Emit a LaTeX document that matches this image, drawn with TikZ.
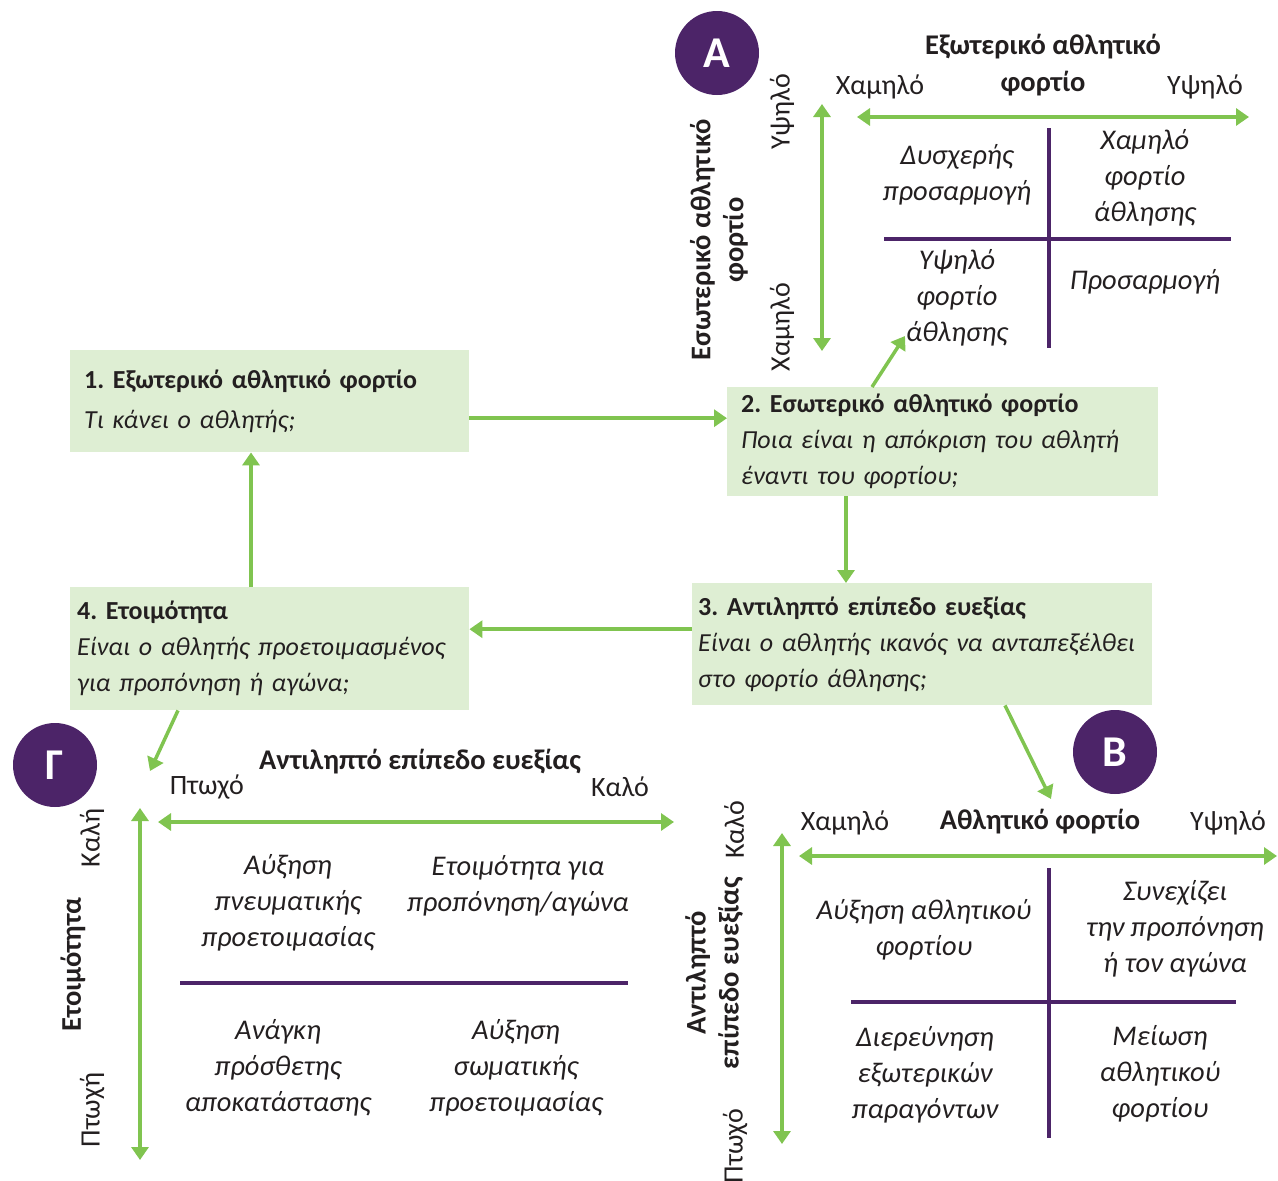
\documentclass[tikz,border=0pt]{standalone}
\usepackage{fontspec}
\setmainfont{Carlito}
\usetikzlibrary{arrows.meta,calc}
\definecolor{grn}{RGB}{128,196,80}
\definecolor{boxg}{RGB}{222,238,211}
\definecolor{purp}{RGB}{76,36,104}
\definecolor{txt}{RGB}{35,31,32}
\frenchspacing
\begin{document}
\begin{tikzpicture}[x=1pt,y=-1pt,
  box/.style={fill=boxg, draw=none, anchor=north west, align=left, inner xsep=14pt, inner ysep=0pt,
    font=\fontsize{26}{36}\selectfont, text=txt},
  flow/.style={draw=grn, line width=3.5pt, -{Triangle[width=17pt,length=13pt]}},
  axisline/.style={draw=grn, line width=3.5pt, {Triangle[width=17pt,length=13pt]}-{Triangle[width=17pt,length=13pt]}},
  divider/.style={draw=purp, line width=4pt},
  badge/.style={circle, fill=purp, minimum size=84pt, inner sep=0pt, text=white, font=\fontsize{44}{44}\selectfont\bfseries},
  lbl/.style={font=\fontsize{28}{34}\selectfont, text=txt, inner sep=0pt},
  qt/.style={font=\fontsize{28.5}{36}\selectfont\itshape, align=center, text=txt, inner sep=0pt},
  ttl/.style={font=\fontsize{28.5}{37}\selectfont\bfseries, align=center, text=txt, inner sep=0pt},
  rttl/.style={font=\fontsize{28.5}{33}\selectfont\bfseries, align=center, text=txt, inner sep=0pt, rotate=90}
]
\useasboundingbox (0,0) rectangle (1278,1181);

% ---- flow boxes
\node[box, minimum width=399pt, minimum height=102pt, text width=371pt] (b1) at (70,350)
  {\textbf{1. Εξωτερικό αθλητικό φορτίο}\\[4pt]\textit{Τι κάνει ο αθλητής;}};
\node[box, minimum width=431pt, minimum height=109pt, text width=403pt] (b2) at (727,387)
  {\textbf{2. Εσωτερικό αθλητικό φορτίο}\\\textit{Ποια είναι η απόκριση του αθλητή}\\\textit{έναντι του φορτίου;}};
\node[box, minimum width=460pt, minimum height=122pt, text width=448pt, inner xsep=6pt] (b3) at (692,583)
  {\textbf{3. Αντιληπτό επίπεδο ευεξίας}\\\textit{Είναι ο αθλητής ικανός να ανταπεξέλθει}\\\textit{στο φορτίο άθλησης;}};
\node[box, minimum width=399pt, minimum height=123pt, text width=385pt, inner xsep=7pt] (b4) at (70,587)
  {\textbf{4. Ετοιμότητα}\\\textit{Είναι ο αθλητής προετοιμασμένος}\\\textit{για προπόνηση ή αγώνα;}};

% ---- cycle arrows
\coordinate (a12) at ($(b1.east)+(0,17)$);
\draw[flow] (a12) -- (a12 -| b2.west);
\coordinate (a23) at ($(b2.south west)+(119,0)$);
\draw[flow] (a23) -- (a23 |- b3.north);
\coordinate (a34) at ($(b3.west)+(0,-15)$);
\draw[flow] (a34) -- (a34 -| b4.east);
\coordinate (a41) at ($(b4.north west)+(181,0)$);
\draw[flow] (a41) -- (a41 |- b1.south);

% ---- badges
\node[badge] (cA) at (717,53) {A};
\node[badge] (cB) at (1115,752) {B};
\node[badge] (cG) at (55,765) {Γ};

% ---- quadrant A
\coordinate (tipA) at (905,336);
\draw[flow] ($(b2.north west)+(145,0)$) -- (tipA);
\node[ttl] (tA1) at (1043,47) {Εξωτερικό αθλητικό};
\node[ttl] (tA2) at (1043,84) {φορτίο};
\node[lbl] (lA1) at (880,87) {Χαμηλό};
\node[lbl] (lA2) at (1205,87) {Υψηλό};
\coordinate (hA1) at (857,117); \coordinate (hA2) at (1249,117);
\draw[axisline] (hA1) -- (hA2);
\coordinate (vA1) at (822,104); \coordinate (vA2) at (822,351);
\draw[axisline] (vA1) -- (vA2);
\node[lbl, rotate=90] (lA3) at (782,112) {Υψηλό};
\node[lbl, rotate=90] (lA4) at (782,327) {Χαμηλό};
\node[rttl] (tA3) at (719,240) {Εσωτερικό αθλητικό\\φορτίο};
\coordinate (dA1) at (1049,128); \coordinate (dA2) at (1049,348);
\coordinate (dA3) at (884,239); \coordinate (dA4) at (1231,239);
\draw[divider] (dA1) -- (dA2);
\draw[divider] (dA3) -- (dA4);
\node[qt] (qA1) at (957,175) {Δυσχερής\\προσαρμογή};
\node[qt] (qA2) at (1145,178) {Χαμηλό\\φορτίο\\άθλησης};
\node[qt] (qA3) at (957,298) {Υψηλό\\φορτίο\\άθλησης};
\node[qt] (qA4) at (1145,282) {Προσαρμογή};

% ---- quadrant Gamma
\coordinate (tipG) at (150,771);
\draw[flow] ($(b4.south west)+(108,0)$) -- (tipG);
\node[ttl] (tG) at (420,762) {Αντιληπτό επίπεδο ευεξίας};
\node[lbl] (lG1) at (207,787) {Πτωχό};
\node[lbl] (lG2) at (620,787) {Καλό};
\coordinate (hG1) at (158,822); \coordinate (hG2) at (674,822);
\draw[axisline] (hG1) -- (hG2);
\coordinate (vG1) at (140,808); \coordinate (vG2) at (140,1160);
\draw[axisline] (vG1) -- (vG2);
\node[lbl, rotate=90] (lG3) at (92,838) {Καλή};
\node[rttl] (tG2) at (73,965) {Ετοιμότητα};
\node[lbl, rotate=90] (lG4) at (92,1110) {Πτωχή};
\coordinate (dG1) at (180,983); \coordinate (dG2) at (628,983);
\draw[divider] (dG1) -- (dG2);
\node[qt] (qG1) at (288,903) {Αύξηση\\πνευματικής\\προετοιμασίας};
\node[qt] (qG2) at (518,886) {Ετοιμότητα για\\προπόνηση/αγώνα};
\node[qt] (qG3) at (278,1068) {Ανάγκη\\πρόσθετης\\αποκατάστασης};
\node[qt] (qG4) at (516,1068) {Αύξηση\\σωματικής\\προετοιμασίας};

% ---- quadrant B
\coordinate (tipB) at (1051,799);
\draw[flow] ($(b3.south west)+(313,0)$) -- (tipB);
\node[ttl] (tB) at (1040,822) {Αθλητικό φορτίο};
\node[lbl] (lB1) at (845,823) {Χαμηλό};
\node[lbl] (lB2) at (1228,823) {Υψηλό};
\coordinate (hB1) at (799,856); \coordinate (hB2) at (1277,856);
\draw[axisline] (hB1) -- (hB2);
\coordinate (vB1) at (782,833); \coordinate (vB2) at (782,1144);
\draw[axisline] (vB1) -- (vB2);
\node[lbl, rotate=90] (lB3) at (734,830) {Καλό};
\node[rttl] (tB2) at (714,973) {Αντιληπτό\\επίπεδο ευεξίας};
\node[lbl, rotate=90] (lB4) at (735,1146) {Πτωχό};
\coordinate (dB1) at (1049,868); \coordinate (dB2) at (1049,1138);
\coordinate (dB3) at (851,1002); \coordinate (dB4) at (1236,1002);
\draw[divider] (dB1) -- (dB2);
\draw[divider] (dB3) -- (dB4);
\node[qt] (qB1) at (924,930) {Αύξηση αθλητικού\\φορτίου};
\node[qt] (qB2) at (1175,929) {Συνεχίζει\\την προπόνηση\\ή τον αγώνα};
\node[qt] (qB3) at (925,1075) {Διερεύνηση\\εξωτερικών\\παραγόντων};
\node[qt] (qB4) at (1160,1074) {Μείωση\\αθλητικού\\φορτίου};
\end{tikzpicture}
\end{document}
